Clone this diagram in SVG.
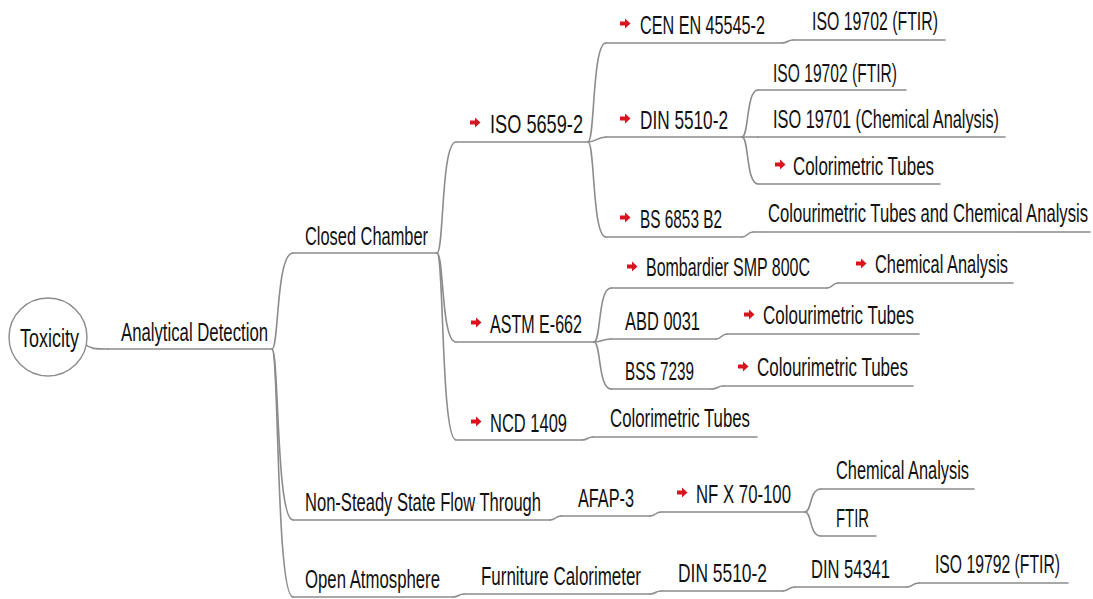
<svg xmlns="http://www.w3.org/2000/svg" xmlns:xlink="http://www.w3.org/1999/xlink" width="1093" height="599" viewBox="0 0 1093 599">
<style>
.t{font-family:"Liberation Sans",Arial,sans-serif;font-size:25px;fill:#111}
.u{fill:none;stroke:#8c8c8c;stroke-width:1.6;stroke-linecap:round}
.c{fill:none;stroke:#8c8c8c;stroke-width:1.6;stroke-linecap:round}
</style>
<defs>
<path id="ar" d="M0,-2 H5 V-5 L10.5,0 L5,5 V2 H0 Z" fill="#d8141f"/>
</defs>
<rect width="1093" height="599" fill="#fff"/>
<g id="connectors">
<path class="c" d="M85,344 C90,349 95,349 108,349"/>
<path class="c" d="M272,349 C279,349 276,253 293,253"/>
<path class="c" d="M272,349 C279,349 276,520 293,520"/>
<path class="c" d="M272,349 C279,349 276,597 293,597"/>
<path class="c" d="M437,253 C444,253 441,142 456,142"/>
<path class="c" d="M437,253 C444,253 441,342 456,342"/>
<path class="c" d="M437,253 C444,253 441,440 456,440"/>
<path class="c" d="M588,142 C595,142 592,43 606,43"/>
<path class="c" d="M588,142 C596,142 597,137 606,137"/>
<path class="c" d="M588,142 C595,142 592,237 606,237"/>
<path class="c" d="M782,43 C788,43 787,40 793,40"/>
<path class="c" d="M742,237 C748,237 747,232 753,232"/>
<path class="c" d="M742,137 C749,137 746,90 758,90"/>
<path class="c" d="M742,137 L758,137"/>
<path class="c" d="M742,137 C749,137 746,184 758,184"/>
<path class="c" d="M594,342 C601,342 598,288 611,288"/>
<path class="c" d="M594,342 C601,342 602,339 611,339"/>
<path class="c" d="M594,342 C601,342 598,389 611,389"/>
<path class="c" d="M827,288 C833,288 832,283 838,283"/>
<path class="c" d="M716,339 C722,339 721,334 727,334"/>
<path class="c" d="M712,389 C718,389 717,386 723,386"/>
<path class="c" d="M582,440 C588,440 587,437 593,437"/>
<path class="c" d="M550,520 C556,520 555,516 561,516"/>
<path class="c" d="M650,516 C656,516 655,512 661,512"/>
<path class="c" d="M805,512 C812,512 809,489 821,489"/>
<path class="c" d="M805,512 C812,512 809,536 821,536"/>
<path class="c" d="M453,597 C459,597 458,594 464,594"/>
<path class="c" d="M650,594 C656,594 655,591 661,591"/>
<path class="c" d="M783,591 C789,591 788,587 795,587"/>
<path class="c" d="M907,587 C913,587 912,583 919,583"/>
</g>
<g id="n-toxicity">
<circle cx="48" cy="337" r="39" fill="#fff" stroke="#8c8c8c" stroke-width="1.4"/>
<text class="t" x="20" y="347" textLength="59" lengthAdjust="spacingAndGlyphs">Toxicity</text>
</g>
<g id="n-analytical">
<path class="u" d="M108,349 H272"/>
<text class="t" x="121" y="341" textLength="147" lengthAdjust="spacingAndGlyphs">Analytical Detection</text>
</g>
<g id="n-closed">
<path class="u" d="M293,253 H437"/>
<text class="t" x="305" y="245" textLength="123" lengthAdjust="spacingAndGlyphs">Closed Chamber</text>
</g>
<g id="n-nonsteady">
<path class="u" d="M293,520 H550"/>
<text class="t" x="305" y="511" textLength="236" lengthAdjust="spacingAndGlyphs">Non-Steady State Flow Through</text>
</g>
<g id="n-open">
<path class="u" d="M293,597 H453"/>
<text class="t" x="305" y="588" textLength="135" lengthAdjust="spacingAndGlyphs">Open Atmosphere</text>
</g>
<g id="n-iso5659">
<path class="u" d="M456,142 H588"/>
<use href="#ar" x="470" y="122.5"/>
<text class="t" x="490" y="133" textLength="93" lengthAdjust="spacingAndGlyphs">ISO 5659-2</text>
</g>
<g id="n-astm">
<path class="u" d="M456,342 H594"/>
<use href="#ar" x="471" y="322.5"/>
<text class="t" x="490" y="333" textLength="92" lengthAdjust="spacingAndGlyphs">ASTM E-662</text>
</g>
<g id="n-ncd">
<path class="u" d="M456,440 H582"/>
<use href="#ar" x="471" y="421.5"/>
<text class="t" x="490" y="432" textLength="77" lengthAdjust="spacingAndGlyphs">NCD 1409</text>
</g>
<g id="n-cen">
<path class="u" d="M606,43 H782"/>
<use href="#ar" x="620" y="23.5"/>
<text class="t" x="640" y="34" textLength="125" lengthAdjust="spacingAndGlyphs">CEN EN 45545-2</text>
</g>
<g id="n-cen-iso19702">
<path class="u" d="M793,40 H945"/>
<text class="t" x="812" y="30" textLength="126" lengthAdjust="spacingAndGlyphs">ISO 19702 (FTIR)</text>
</g>
<g id="n-din5510">
<path class="u" d="M606,137 H742"/>
<use href="#ar" x="620" y="118.5"/>
<text class="t" x="640" y="129" textLength="88" lengthAdjust="spacingAndGlyphs">DIN 5510-2</text>
</g>
<g id="n-din-iso19702">
<path class="u" d="M758,90 H906"/>
<text class="t" x="773" y="82" textLength="124" lengthAdjust="spacingAndGlyphs">ISO 19702 (FTIR)</text>
</g>
<g id="n-din-iso19701">
<path class="u" d="M758,137 H1005"/>
<text class="t" x="773" y="128" textLength="226" lengthAdjust="spacingAndGlyphs">ISO 19701 (Chemical Analysis)</text>
</g>
<g id="n-din-colorimetric">
<path class="u" d="M758,184 H940"/>
<use href="#ar" x="775" y="164.5"/>
<text class="t" x="793" y="175" textLength="141" lengthAdjust="spacingAndGlyphs">Colorimetric Tubes</text>
</g>
<g id="n-bs6853">
<path class="u" d="M606,237 H742"/>
<use href="#ar" x="620" y="217.5"/>
<text class="t" x="640" y="228" textLength="82" lengthAdjust="spacingAndGlyphs">BS 6853 B2</text>
</g>
<g id="n-bs-colour">
<path class="u" d="M753,232 H1090"/>
<text class="t" x="768" y="222" textLength="320" lengthAdjust="spacingAndGlyphs">Colourimetric Tubes and Chemical Analysis</text>
</g>
<g id="n-bombardier">
<path class="u" d="M611,288 H827"/>
<use href="#ar" x="627" y="266.5"/>
<text class="t" x="646" y="276" textLength="164" lengthAdjust="spacingAndGlyphs">Bombardier SMP 800C</text>
</g>
<g id="n-bomb-chem">
<path class="u" d="M838,283 H1013"/>
<use href="#ar" x="856" y="263.5"/>
<text class="t" x="875" y="273" textLength="133" lengthAdjust="spacingAndGlyphs">Chemical Analysis</text>
</g>
<g id="n-abd">
<path class="u" d="M611,339 H716"/>
<text class="t" x="625" y="330" textLength="75" lengthAdjust="spacingAndGlyphs">ABD 0031</text>
</g>
<g id="n-abd-colour">
<path class="u" d="M727,334 H919"/>
<use href="#ar" x="744" y="314.5"/>
<text class="t" x="763" y="324" textLength="151" lengthAdjust="spacingAndGlyphs">Colourimetric Tubes</text>
</g>
<g id="n-bss">
<path class="u" d="M611,389 H712"/>
<text class="t" x="625" y="380" textLength="69" lengthAdjust="spacingAndGlyphs">BSS 7239</text>
</g>
<g id="n-bss-colour">
<path class="u" d="M723,386 H913"/>
<use href="#ar" x="738" y="366.5"/>
<text class="t" x="757" y="376" textLength="151" lengthAdjust="spacingAndGlyphs">Colourimetric Tubes</text>
</g>
<g id="n-ncd-colorimetric">
<path class="u" d="M593,437 H757"/>
<text class="t" x="610" y="427" textLength="140" lengthAdjust="spacingAndGlyphs">Colorimetric Tubes</text>
</g>
<g id="n-afap">
<path class="u" d="M561,516 H650"/>
<text class="t" x="578" y="507" textLength="56" lengthAdjust="spacingAndGlyphs">AFAP-3</text>
</g>
<g id="n-nfx">
<path class="u" d="M661,512 H805"/>
<use href="#ar" x="677" y="492.5"/>
<text class="t" x="696" y="503" textLength="95" lengthAdjust="spacingAndGlyphs">NF X 70-100</text>
</g>
<g id="n-nfx-chem">
<path class="u" d="M821,489 H974"/>
<text class="t" x="836" y="479" textLength="133" lengthAdjust="spacingAndGlyphs">Chemical Analysis</text>
</g>
<g id="n-nfx-ftir">
<path class="u" d="M821,536 H876"/>
<text class="t" x="836" y="527" textLength="33" lengthAdjust="spacingAndGlyphs">FTIR</text>
</g>
<g id="n-furniture">
<path class="u" d="M464,594 H650"/>
<text class="t" x="481" y="585" textLength="160" lengthAdjust="spacingAndGlyphs">Furniture Calorimeter</text>
</g>
<g id="n-open-din5510">
<path class="u" d="M661,591 H783"/>
<text class="t" x="678" y="582" textLength="89" lengthAdjust="spacingAndGlyphs">DIN 5510-2</text>
</g>
<g id="n-din54341">
<path class="u" d="M795,587 H907"/>
<text class="t" x="811" y="578" textLength="79" lengthAdjust="spacingAndGlyphs">DIN 54341</text>
</g>
<g id="n-iso19792">
<path class="u" d="M919,583 H1068"/>
<text class="t" x="935" y="573" textLength="125" lengthAdjust="spacingAndGlyphs">ISO 19792 (FTIR)</text>
</g>
</svg>
